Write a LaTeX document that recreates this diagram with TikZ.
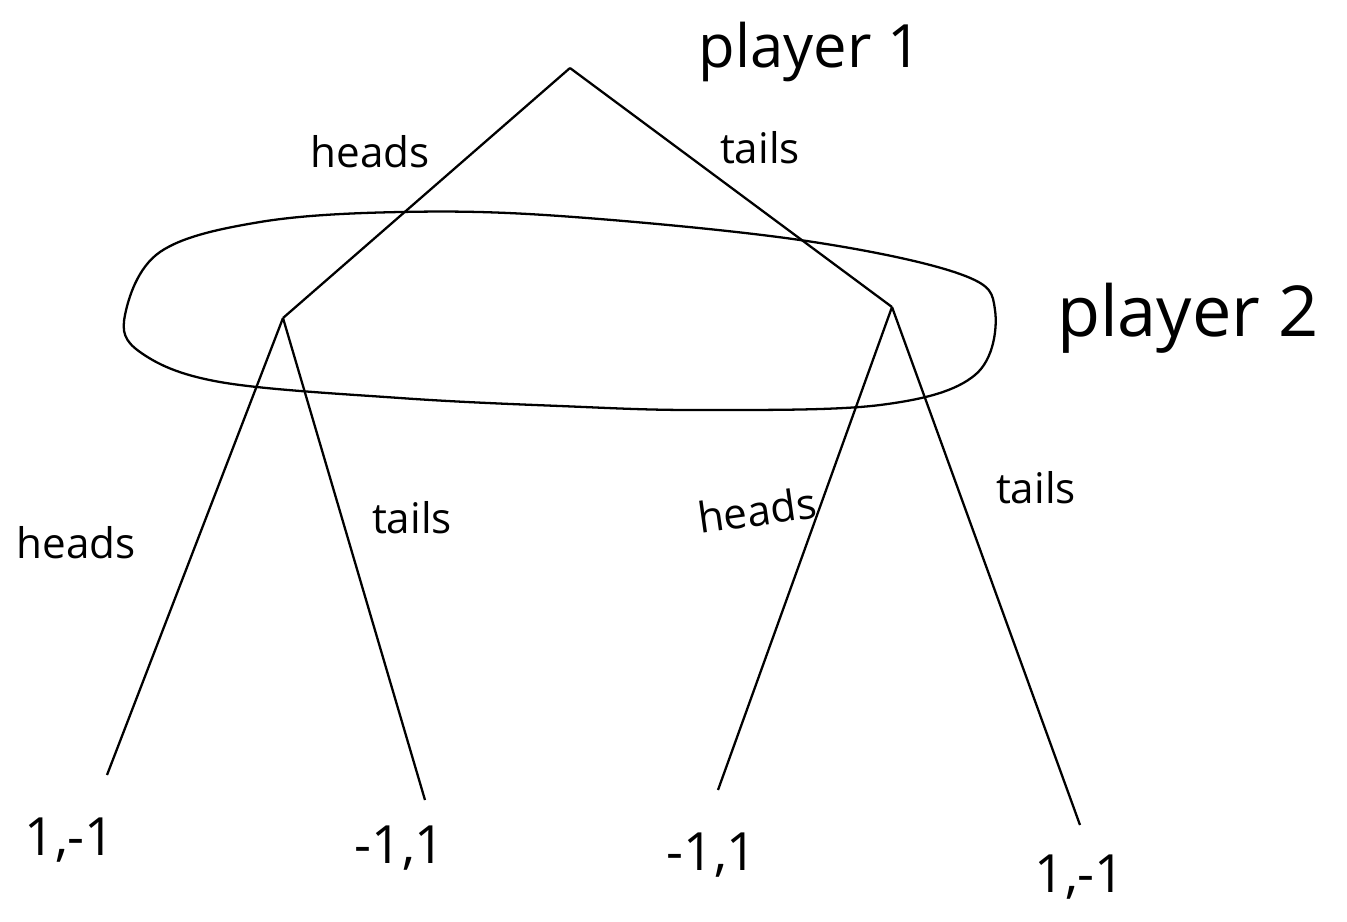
\documentclass[tikz,border=0pt]{standalone}
\usepackage{fontspec}
\setmainfont{Open Sans}
\begin{document}
\begin{tikzpicture}[x=0.02cm,y=-0.02cm,
  edge/.style={line width=1.3pt,black},
  lbl/.style={inner sep=0pt,font=\fontsize{24}{28}\selectfont},
  big/.style={inner sep=0pt,font=\fontsize{34}{40}\selectfont},
  pay/.style={inner sep=0pt,font=\fontsize{30}{36}\selectfont}]
\useasboundingbox (0,0) rectangle (1347,921);
% decision points
\coordinate (root) at (570,68);
\coordinate (p2l) at (283,318);
\coordinate (p2r) at (892,307);
\coordinate (ll) at (107,775);
\coordinate (lr) at (425,800);
\coordinate (rl) at (718,790);
\coordinate (rr) at (1080,825);
% edges
\draw[edge] (root) -- (p2l);
\draw[edge] (root) -- (p2r);
\draw[edge] (p2l) -- (ll);
\draw[edge] (p2l) -- (lr);
\draw[edge] (p2r) -- (rl);
\draw[edge] (p2r) -- (rr);
% information set
\draw[edge] plot[smooth cycle, tension=0.6] coordinates {(125,315) (160,252) (260,222) (400,212) (560,216) (800,240) (960,274) (995,310) (975,375) (880,405) (700,410) (560,406) (400,398) (220,382) (140,352)};
% labels
\node[big] (pl1) at (810,52) {player 1};
\node[big,font=\fontsize{40}{46}\selectfont] (pl2) at (1188,318) {player 2};
\node[lbl] (h1) at (370,152) {heads};
\node[lbl] (t1) at (760,148) {tails};
\node[lbl] (h2) at (76,543) {heads};
\node[lbl] (t2) at (412,518) {tails};
\node[lbl,rotate=8] (h3) at (757,510) {heads};
\node[lbl] (t3) at (1036,488) {tails};
\node[pay] (o1) at (70,840) {1,-1};
\node[pay] (o2) at (400,848) {-1,1};
\node[pay] (o3) at (712,855) {-1,1};
\node[pay] (o4) at (1080,877) {1,-1};
\end{tikzpicture}
\end{document}
